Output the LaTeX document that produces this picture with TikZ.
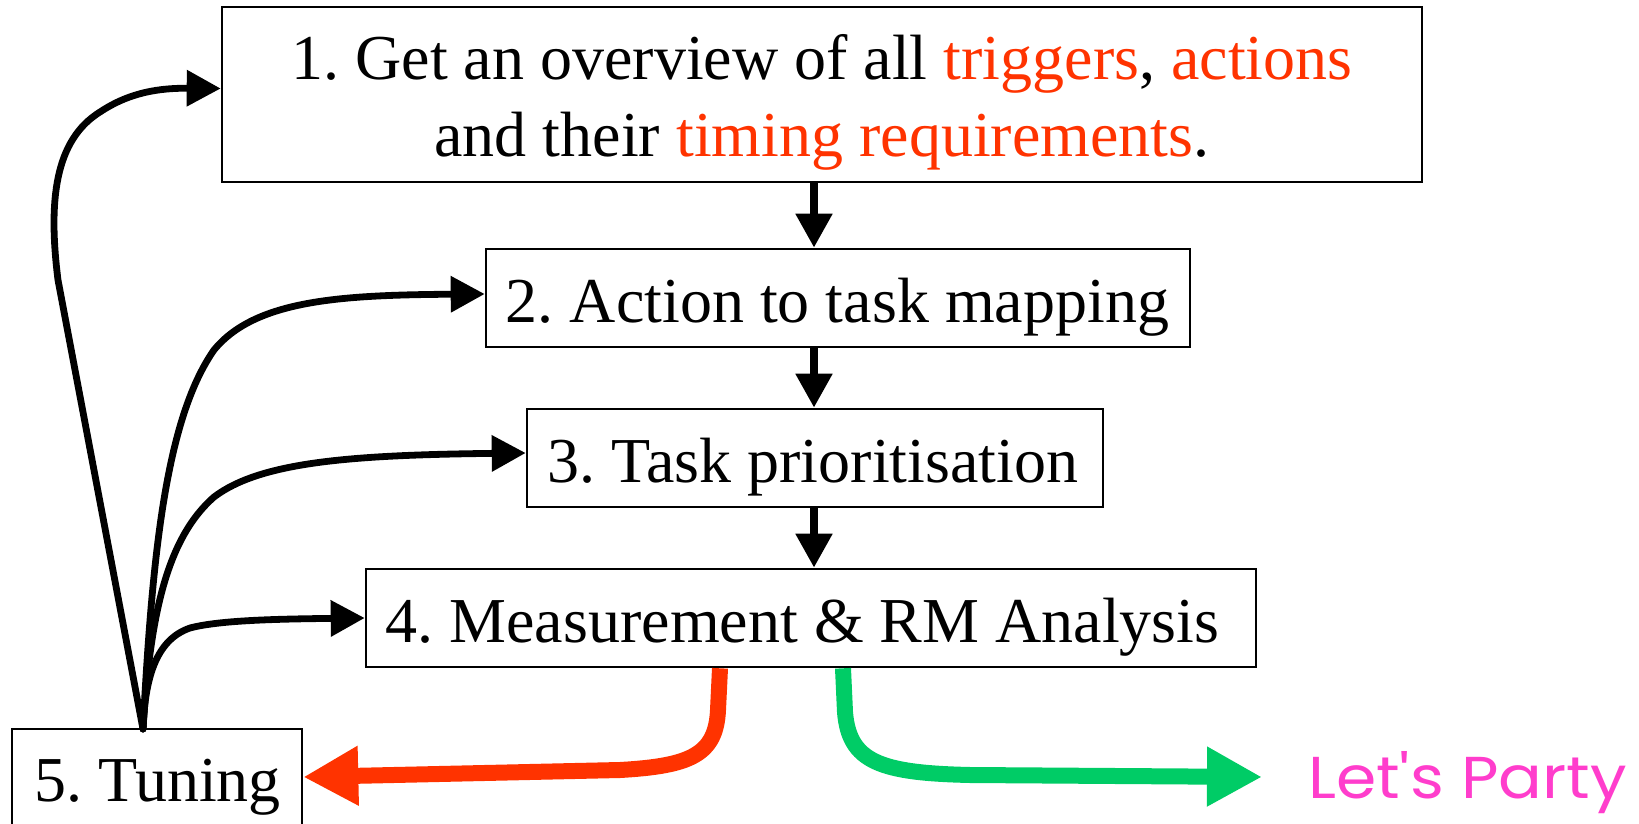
\documentclass[tikz,border=0pt]{standalone}
\usepackage{fontspec}
\setmainfont{Liberation Serif}
\newfontfamily\partyfont{Poppins}
\usetikzlibrary{arrows.meta,calc}
\definecolor{hot}{HTML}{FF3300}
\definecolor{go}{HTML}{00CC66}
\definecolor{party}{HTML}{FF3DCC}
\frenchspacing
\begin{document}
\begin{tikzpicture}[x=1pt,y=-1pt,
  stepbox/.style={draw,line width=2.6pt,inner sep=0pt},
  steptext/.style={anchor=base,inner sep=0pt,font=\fontsize{64}{77}\selectfont},
  flow/.style={line width=8pt,-{Triangle[length=34pt,width=35pt]}},
  back/.style={line width=6.8pt,line cap=round,-{Triangle[length=34pt,width=35pt]}},
  verdict/.style={line width=16pt,-{Triangle[length=55pt,width=56pt]}}]
\useasboundingbox (0,0) rectangle (1639,824);

% step boxes
\node[stepbox,minimum width=1200pt,minimum height=175pt] (b1) at (822,94.5) {};
\node[stepbox,minimum width=704pt,minimum height=98pt] (b2) at (838,298) {};
\node[stepbox,minimum width=576pt,minimum height=98pt] (b3) at (815,458) {};
\node[stepbox,minimum width=890pt,minimum height=98pt] (b4) at (811,618) {};
\node[stepbox,minimum width=290pt,minimum height=100pt] (b5) at (157,779) {};

% step texts
\node[steptext] (t1a) at (822,80) {1. Get an overview of all \textcolor{hot}{triggers}, \textcolor{hot}{actions}};
\node[steptext] (t1b) at (822,157) {and their \textcolor{hot}{timing requirements}.};
\node[steptext] (t2) at (837.5,322) {2. Action to task mapping};
\node[steptext] (t3) at (813,482) {3. Task prioritisation};
\node[steptext] (t4) at (802.5,642) {4. Measurement \& RM Analysis};
\node[steptext] (t5) at (157.5,801) {5. Tuning};
\node[anchor=base,inner sep=0pt,text=party] (party) at (1467.5,798)
  {\resizebox{319pt}{47pt}{\partyfont Let's Party}};

% main flow
\coordinate (ax) at (814,0);
\draw[flow] (ax |- b1.south) -- (ax |- b2.north);
\draw[flow] (ax |- b2.south) -- (ax |- b3.north);
\draw[flow] (ax |- b3.south) -- (ax |- b4.north);

% feedback from tuning
\coordinate (j) at (143,729);
\draw[back] (j) -- (58,280) .. controls (48,200) and (55,140) .. (100,112)
  .. controls (130,92) and (160,88) .. ([yshift=6pt]b1.west);
\draw[back] (j) .. controls (152,560) and (165,420) .. (214,350)
  .. controls (255,300) and (340,295) .. ([yshift=4pt]b2.west);
\draw[back] (j) .. controls (150,620) and (165,540) .. (214,497)
  .. controls (260,462) and (350,455) .. ([yshift=5pt]b3.west);
\draw[back] (j) .. controls (145,680) and (155,640) .. (190,628)
  .. controls (220,620) and (280,619) .. (b4.west);

% outcome of the analysis
\coordinate (goal) at (1262,777);
\draw[verdict,hot] ([xshift=-91pt]b4.south) -- (718,710)
  .. controls (716,755) and (690,766) .. (620,770) -- ([yshift=2pt]b5.east);
\draw[verdict,go] ([xshift=32pt]b4.south) -- (845,712)
  .. controls (849,762) and (880,773) .. (970,775) -- (goal);
\end{tikzpicture}
\end{document}
